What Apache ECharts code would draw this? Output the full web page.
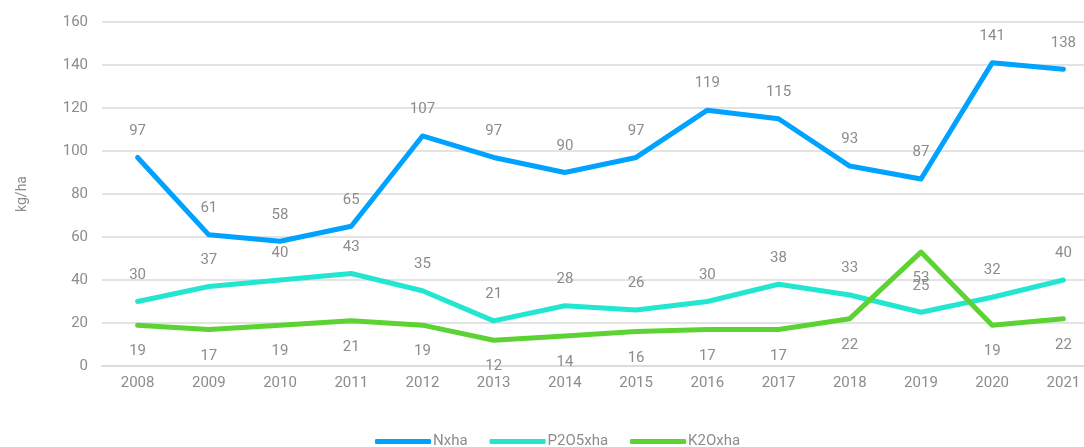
<!DOCTYPE html>
<html>
<head>
<meta charset="utf-8">
<script src="https://cdn.jsdelivr.net/npm/echarts@6/dist/echarts.min.js"></script>
<style>
    html, body { margin: 0; padding: 0; background: #fff; }
    #chart { width: 1084px; height: 447px; }
</style>
</head>
<body>
<div id="chart"></div>
<script>
const years = ['2008', '2009', '2010', '2011', '2012', '2013', '2014', '2015', '2016', '2017', '2018', '2019', '2020', '2021'];
const nxha = [97, 61, 58, 65, 107, 97, 90, 97, 119, 115, 93, 87, 141, 138];
const p2o5xha = [30, 37, 40, 43, 35, 21, 28, 26, 30, 38, 33, 25, 32, 40];
const k2oxha = [19, 17, 19, 21, 19, 12, 14, 16, 17, 17, 22, 53, 19, 22];

const chart = echarts.init(document.getElementById('chart'));

const labelStyle = {
    show: true,
    color: '#8c8c8c',
    fontSize: 15,
    fontFamily: 'Roboto, sans-serif',
    distance: 18
};

const makeSeries = (name, data, color, pos) => ({
    name: name,
    type: 'line',
    data: data,
    color: color,
    symbol: 'circle',
    symbolSize: 2,
    showSymbol: true,
    itemStyle: { color: color },
    lineStyle: { width: 5, color: color, cap: 'round', join: 'round' },
    label: Object.assign({}, labelStyle, { position: pos })
});

const option = {
    animation: false,
    textStyle: { fontFamily: 'Roboto, sans-serif' },
    grid: { left: 102, right: -15, top: 22, bottom: 81, outerBoundsMode: 'none', containLabel: false },
    legend: {
        left: 370,
        top: 429,
        itemWidth: 56,
        itemHeight: 5,
        itemGap: 22,
        icon: 'roundRect',
        textStyle: { color: '#8c8c8c', fontSize: 15, padding: [0, 0, 0, -3] },
        data: ['Nxha', 'P2O5xha', 'K2Oxha']
    },
    xAxis: {
        type: 'category',
        data: years,
        boundaryGap: true,
        axisLine: { lineStyle: { color: '#dcdcdc', width: 2 } },
        axisTick: { show: false },
        axisLabel: { color: '#8c8c8c', fontSize: 15, margin: 10 }
    },
    yAxis: {
        type: 'value',
        min: 0,
        max: 160,
        interval: 20,
        name: 'kg/ha',
        nameLocation: 'middle',
        nameGap: 73,
        nameTextStyle: { color: '#8c8c8c', fontSize: 14 },
        axisLine: { show: false },
        axisTick: { show: false },
        axisLabel: { color: '#8c8c8c', fontSize: 15, margin: 14 },
        splitLine: { lineStyle: { color: '#e3e3e3', width: 2 } }
    },
    series: [
        makeSeries('Nxha', nxha, '#00a2ff', 'top'),
        makeSeries('P2O5xha', p2o5xha, '#22e6cf', 'top'),
        makeSeries('K2Oxha', k2oxha, '#5cd332', 'bottom')
    ]
};

chart.setOption(option);
window.addEventListener('resize', () => chart.resize());
</script>
</body>
</html>
